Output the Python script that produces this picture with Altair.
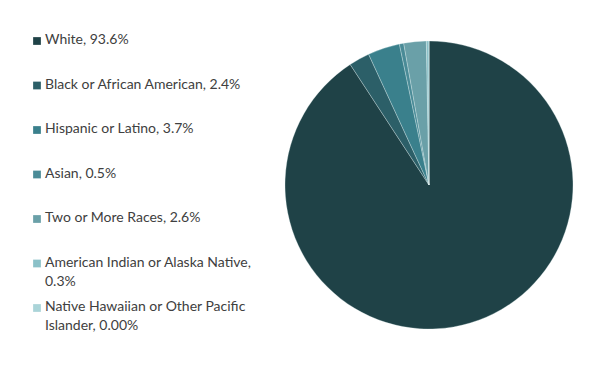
import altair as alt
import pandas as pd

categories = [
    "White",
    "Black or African American",
    "Hispanic or Latino",
    "Asian",
    "Two or More Races",
    "American Indian or Alaska Native",
    "Native Hawaiian or Other Pacific Islander",
]
shares = [93.6, 2.4, 3.7, 0.5, 2.6, 0.3, 0.0]
labels = [
    "White, 93.6%",
    "Black or African American, 2.4%",
    "Hispanic or Latino, 3.7%",
    "Asian, 0.5%",
    "Two or More Races, 2.6%",
    "American Indian or Alaska Native,\n0.3%",
    "Native Hawaiian or Other Pacific\nIslander, 0.00%",
]
colors = ["#1f4247", "#2c5f68", "#3a808c", "#4a8b97", "#6aa0a8", "#8bc1c8", "#aad4d8"]

df = pd.DataFrame({
    "cat": categories,
    "share": shares,
    "label": labels,
    "order": list(range(len(categories))),
})

color_scale = alt.Scale(domain=categories, range=colors)

pie = alt.Chart(df).mark_arc(
    outerRadius=144, stroke="#e8f4f5", strokeWidth=0.3
).encode(
    theta=alt.Theta("share:Q", stack=True),
    order=alt.Order("order:Q"),
    color=alt.Color("cat:N", scale=color_scale, legend=None),
    x=alt.value(421),
    y=alt.value(177),
)

ypos = alt.Y("cat:N", scale=alt.Scale(domain=categories, range=[33, 300], type="point", padding=0), axis=None)

squares = alt.Chart(df).mark_square(size=60, opacity=1).encode(
    x=alt.value(29),
    y=ypos,
    color=alt.Color("cat:N", scale=color_scale, legend=None),
)

texts = alt.Chart(df).mark_text(
    align="left", baseline="top", dy=-8, lineBreak="\n", lineHeight=19,
    font="Lato", fontSize=14, color="#404040"
).encode(
    x=alt.value(37),
    y=ypos,
    text="label:N",
)

chart = alt.layer(pie, squares, texts).properties(
    width=588, height=358, padding=0, autosize="none"
).configure_view(stroke=None)

chart.save("out.html", embed_options={"renderer": "svg", "actions": False})
